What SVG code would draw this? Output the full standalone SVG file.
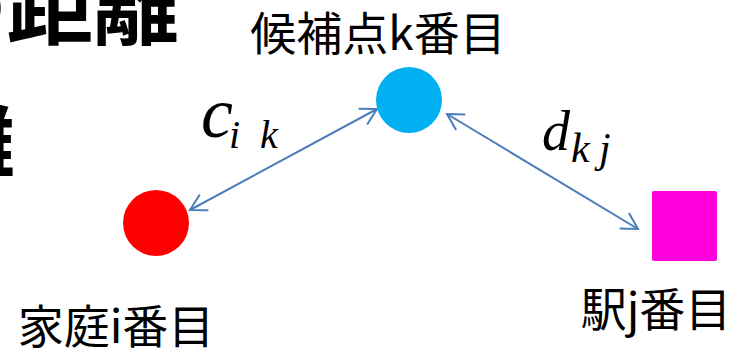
<svg xmlns="http://www.w3.org/2000/svg" width="742" height="348" viewBox="0 0 742 348">
  <style>
    .label { font-family: "Noto Sans CJK JP", "Noto Sans", sans-serif; font-size: 46px; fill: #000; }
    .title { font-family: "Noto Sans CJK JP", "Noto Sans", sans-serif; font-weight: bold; fill: #000; }
    .math { font-family: "Liberation Serif", "DejaVu Serif", serif; font-style: italic; fill: #000; }
    .link { stroke: #4A7EBB; stroke-width: 2; fill: none; marker-start: url(#arrow); marker-end: url(#arrow); }
  </style>
  <defs>
    <marker id="arrow" markerUnits="userSpaceOnUse" markerWidth="40" markerHeight="40" viewBox="-20 -20 40 40" refX="0" refY="0" orient="auto-start-reverse">
      <path d="M -16 -9 L 0 0 L -16 9" fill="none" stroke="#4A7EBB" stroke-width="2"/>
    </marker>
  </defs>
  <rect width="742" height="348" fill="#fff"/>

  <!-- heading fragments at the left edge -->
  <text class="title" x="-79" y="38" font-size="86">の距離</text>
  <text class="title" x="15" y="172" font-size="80" text-anchor="end">離</text>

  <!-- connectors -->
  <g id="connectors">
    <line class="link" x1="190" y1="210" x2="377" y2="109"/>
    <line class="link" x1="447" y1="114" x2="638" y2="229"/>
  </g>

  <!-- distance labels -->
  <g id="label-cik">
    <text class="math" x="201" y="137" font-size="72">c</text>
    <text class="math" x="229" y="148" font-size="40">i</text>
    <text class="math" x="260" y="148" font-size="40">k</text>
  </g>
  <g id="label-dkj">
    <text class="math" x="542" y="150" font-size="56">d</text>
    <text class="math" x="571" y="162" font-size="42">k</text>
    <text class="math" x="599" y="162" font-size="42">j</text>
  </g>

  <g id="node-candidate">
    <circle cx="409" cy="100" r="33" fill="#00B0F0"/>
    <text class="label" x="378" y="50" text-anchor="middle">候補点k番目</text>
  </g>
  <g id="node-household">
    <circle cx="156" cy="223" r="33" fill="#FF0000"/>
    <text class="label" x="116" y="343" text-anchor="middle">家庭i番目</text>
  </g>
  <g id="node-station">
    <rect x="652" y="191" width="65" height="70" rx="2" fill="#FF00DD"/>
    <text class="label" x="656" y="326" text-anchor="middle">駅j番目</text>
  </g>
</svg>
